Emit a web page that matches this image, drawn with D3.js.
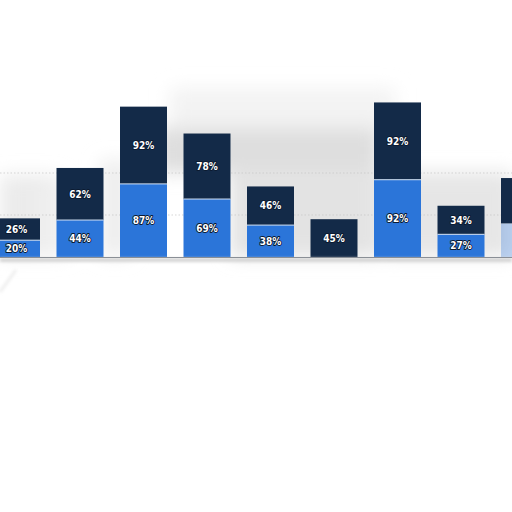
<!DOCTYPE html>
<html>
<head>
<meta charset="utf-8">
<script src="https://cdn.jsdelivr.net/npm/d3@7"></script>
<style>
  body { margin: 0; background: #fff; }
  svg { display: block; }
</style>
</head>
<body>
<div id="chart"></div>
<script>
// data
const categories = ["c1", "c2", "c3", "c4", "c5", "c6", "c7", "c8", "c9"];
const lowerValues = [20, 44, 87, 69, 38, 0, 92, 27, 40];
const upperValues = [26, 62, 92, 78, 46, 45, 92, 34, 54];
const gridValues = [50, 100];

const width = 512;
const height = 512;

const svg = d3.select("#chart")
    .append("svg")
    .attr("width", width)
    .attr("height", height)
    .style("background", "#fff");

const defs = svg.append("defs");
defs.append("filter").attr("id", "blur")
    .attr("x", "-30%").attr("y", "-30%").attr("width", "160%").attr("height", "160%")
    .append("feGaussianBlur").attr("stdDeviation", 9);
defs.append("filter").attr("id", "blurSmall")
    .attr("x", "-20%").attr("y", "-200%").attr("width", "140%").attr("height", "500%")
    .append("feGaussianBlur").attr("stdDeviation", 1.5);

// blurry grey backdrop
const backdrop = [
    { x: 0, y: 175, w: 60, h: 82, c: "#ebebeb" },
    { x: 40, y: 185, w: 30, h: 72, c: "#f0f0f0" },
    { x: 170, y: 88, w: 225, h: 40, c: "#f3f3f3" },
    { x: 155, y: 128, w: 225, h: 45, c: "#dedede" },
    { x: 230, y: 168, w: 150, h: 89, c: "#e3e3e3" },
    { x: 385, y: 172, w: 127, h: 85, c: "#e6e6e6" },
    { x: 100, y: 160, w: 30, h: 97, c: "#eeeeee" }
];
svg.append("g")
    .attr("filter", "url(#blur)")
    .selectAll("rect")
    .data(backdrop)
    .join("rect")
    .attr("x", d => d.x).attr("y", d => d.y)
    .attr("width", d => d.w).attr("height", d => d.h)
    .attr("fill", d => d.c);

// faint stroke bottom left
svg.append("line")
    .attr("x1", 0).attr("y1", 292).attr("x2", 16).attr("y2", 270)
    .attr("stroke", "#efefef").attr("stroke-width", 3)
    .attr("filter", "url(#blurSmall)");

// scales
const x = d3.scaleBand()
    .domain(categories)
    .range([-15.25, -15.25 + categories.length * 63.5])
    .paddingInner(0.26)
    .paddingOuter(0.13);

const y = d3.scaleLinear()
    .domain([0, 200])
    .range([257, 89]);

// grid
svg.append("g")
    .selectAll("line")
    .data(gridValues)
    .join("line")
    .attr("x1", 0).attr("x2", width)
    .attr("y1", d => y(d)).attr("y2", d => y(d))
    .attr("stroke", "#c4c4c4")
    .attr("stroke-width", 0.7)
    .attr("stroke-dasharray", "1.5,2");

const bars = categories.map((c, i) => ({
    cat: c,
    i: i,
    lower: lowerValues[i],
    upper: upperValues[i]
}));

const plot = svg.append("g");

// lower (blue) part
plot.selectAll("rect.lower")
    .data(bars)
    .join("rect")
    .attr("class", "lower")
    .attr("x", d => x(d.cat))
    .attr("width", x.bandwidth())
    .attr("y", d => y(d.lower))
    .attr("height", d => y(0) - y(d.lower))
    .attr("fill", "#2b75d9")
    .attr("opacity", d => d.i === 8 ? 0.3 : 1);

// upper (navy) part
plot.selectAll("rect.upper")
    .data(bars)
    .join("rect")
    .attr("class", "upper")
    .attr("x", d => x(d.cat))
    .attr("width", x.bandwidth())
    .attr("y", d => y(d.lower + d.upper))
    .attr("height", d => y(d.lower) - y(d.lower + d.upper))
    .attr("fill", "#132a48");

// thin light separation between parts
plot.selectAll("line.sep")
    .data(bars.filter(d => d.lower > 0 && d.i < 8))
    .join("line")
    .attr("class", "sep")
    .attr("x1", d => x(d.cat)).attr("x2", d => x(d.cat) + x.bandwidth())
    .attr("y1", d => y(d.lower)).attr("y2", d => y(d.lower))
    .attr("stroke", "#cfe0f5").attr("stroke-width", 1);

// baseline
svg.append("rect")
    .attr("x", 0).attr("y", y(0) + 1)
    .attr("width", width).attr("height", 4)
    .attr("fill", "#d4d4d4")
    .attr("filter", "url(#blurSmall)");
svg.append("line")
    .attr("x1", 0).attr("x2", width)
    .attr("y1", y(0) + 0.5).attr("y2", y(0) + 0.5)
    .attr("stroke", "#8a8f96").attr("stroke-width", 1.2);

// labels (the last bar runs off the edge, its labels are not in view)
const shown = bars.filter(d => d.i < 8);

function addLabels(cls, data, valueOf, mid) {
    plot.selectAll("text." + cls)
        .data(data)
        .join("text")
        .attr("class", cls)
        .attr("x", d => x(d.cat) + x.bandwidth() / 2)
        .attr("y", mid)
        .attr("dy", "0.35em")
        .attr("text-anchor", "middle")
        .style("font-family", "'DejaVu Sans Condensed', 'DejaVu Sans', sans-serif")
        .style("font-weight", "bold")
        .style("font-size", "10px")
        .attr("fill", "#fff")
        .attr("stroke", "#0c1a30")
        .attr("stroke-width", 1.8)
        .attr("stroke-linejoin", "round")
        .style("paint-order", "stroke")
        .text(d => valueOf(d) + "%");
}

addLabels("lowLabel", shown.filter(d => d.lower > 0), d => d.lower,
    d => (y(0) + y(d.lower)) / 2);
addLabels("upLabel", shown, d => d.upper,
    d => (y(d.lower) + y(d.lower + d.upper)) / 2);
</script>
</body>
</html>
